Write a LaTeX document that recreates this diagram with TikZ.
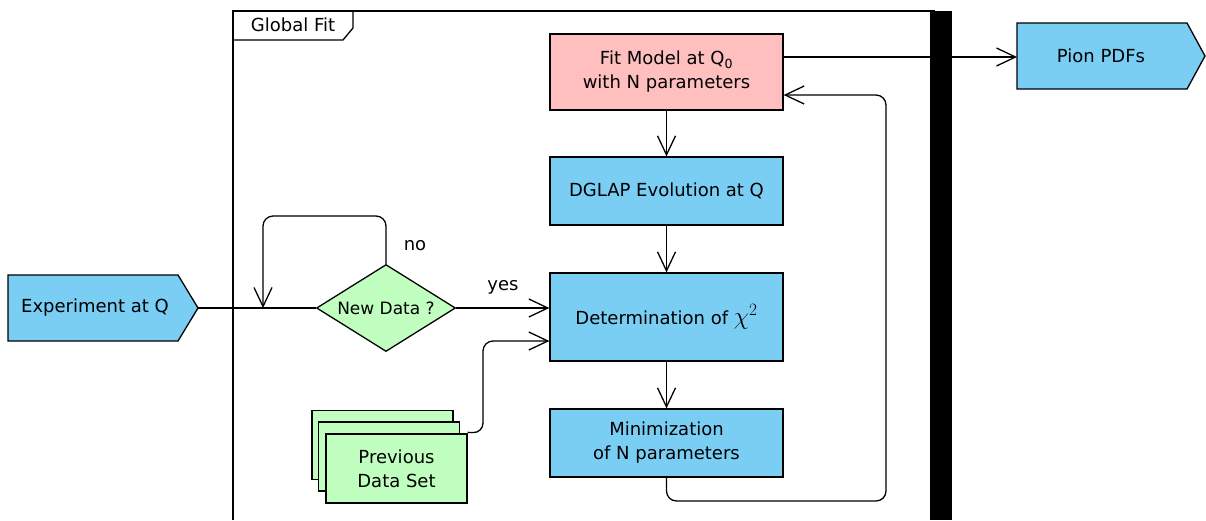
\documentclass[tikz,border=0pt]{standalone}
\usepackage{fontspec}
\setmainfont{DejaVu Sans}
\usetikzlibrary{arrows.meta,shapes.geometric,calc}
\definecolor{boxblue}{RGB}{122,206,244}
\definecolor{boxpink}{RGB}{255,191,191}
\definecolor{boxgreen}{RGB}{192,255,192}
\tikzset{
  every node/.style={font=\fontsize{18}{24}\selectfont},
  line/.style={line width=1.3pt, rounded corners=10pt},
  arr/.style={line, -{Straight Barb[length=19pt,width=18pt,line width=1.3pt]}},
  procbox/.style={draw, line width=1.3pt, fill=boxblue, minimum width=233pt, inner sep=0pt, align=center},
  card/.style={draw, line width=1.3pt, fill=boxgreen, minimum width=141pt, minimum height=69pt, inner sep=0pt, align=center},
  shapeline/.style={draw, line width=1.3pt, fill=boxblue},
}
\begin{document}
\begin{tikzpicture}[x=1pt,y=-1pt]
\useasboundingbox (0,0) rectangle (1206,520);
% frame
\draw[line width=1.3pt] (233,520) -- (233,11) -- (935,11);
\draw[line width=1.3pt] (233,40) -- (343,40) -- (353,28) -- (353,11);
\node (title) at (293,25) {Global Fit};
\fill (930,11) rectangle (952,520);
% process boxes
\node[procbox, fill=boxpink, minimum height=76pt] (fit) at (666.5,72) {Fit Model at Q\textsubscript{0}\\with N parameters};
\node[procbox, minimum height=68pt] (dglap) at (666.5,191) {DGLAP Evolution at Q};
\node[procbox, minimum height=88pt] (det) at (666.5,317) {Determination of {\fontsize{26}{26}\selectfont\(\chi^2\)}};
\node[procbox, minimum height=68pt] (min) at (666.5,443) {Minimization\\of N parameters};
% experiment
\coordinate (exptip) at (198,308);
\draw[shapeline] (8,275) -- (178,275) -- (exptip) -- (178,341) -- (8,341) -- cycle;
\node (exp) at (95,308) {Experiment at Q};
% pion
\coordinate (pionin) at (1017,57);
\draw[shapeline] (1017,23) -- (1187,23) -- (1205,56) -- (1187,89) -- (1017,89) -- cycle;
\node (pion) at (1101,56) {Pion PDFs};
% decision
\node[draw, line width=1.3pt, fill=boxgreen, diamond, aspect=1.6, minimum width=139pt, minimum height=87pt, inner sep=0pt, font=\fontsize{17}{20}\selectfont] (dec) at (386,308) {New Data ?};
% previous data set
\node[card] (prev1) at (382.5,445) {};
\node[card] (prev2) at (389,456.5) {};
\node[card] (prev) at (396.5,468.5) {Previous\\Data Set};
% labels
\node (no) at (415,246) {no};
\node (yes) at (503,287) {yes};
% connectors
\coordinate (join) at (263,308);
\draw[line] (exptip) -- (dec.west);
\draw[arr] (dec.north) -- (386,216) -- (263,216) -- (join);
\draw[arr] (dec.east) -- (dec.east -| det.west);
\draw[arr] (prev.north east) ++(0,-1) -- (483,433) -- (483,341) -- (det.west |- 0,341);
\draw[arr] (fit) -- (dglap);
\draw[arr] (dglap) -- (det);
\draw[arr] (det) -- (min);
\draw[arr] (min.south) -- (666.5,501) -- (886,501) -- (886,95) -- (fit.east |- 0,95);
\draw[arr] (fit.east |- 0,57) -- (pionin);
\end{tikzpicture}
\end{document}
